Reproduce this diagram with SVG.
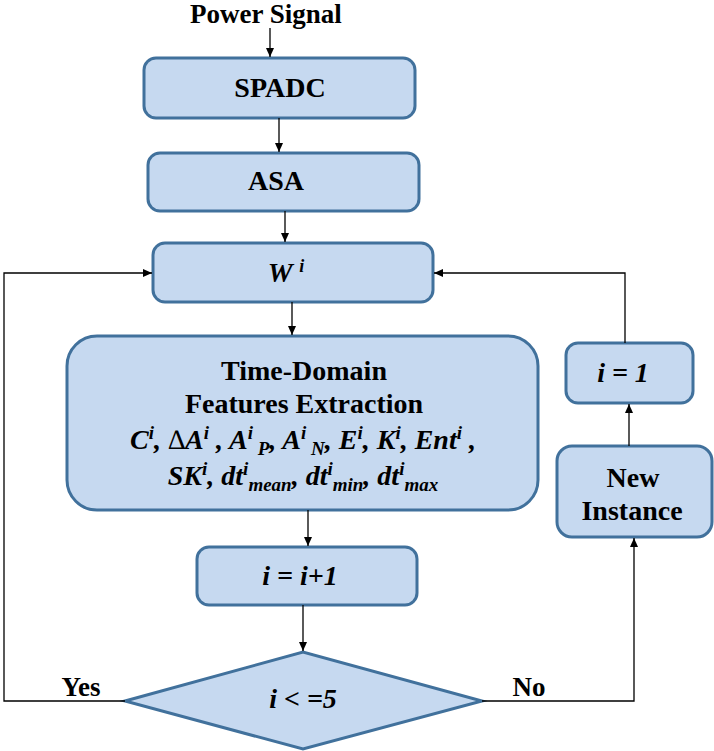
<svg xmlns="http://www.w3.org/2000/svg" width="714" height="751" viewBox="0 0 714 751">
<style>
.box{fill:#c6d9f0;stroke:#41719c;stroke-width:3}
.c{fill:none;stroke:#000;stroke-width:1.3}
</style>
<defs>
<marker id="ah" markerUnits="userSpaceOnUse" markerWidth="9" markerHeight="8" refX="9" refY="4" orient="auto">
<path d="M0,0 L9,4 L0,8 z" fill="#000"/>
</marker>
</defs>
<g font-family="Liberation Serif, DejaVu Serif, serif" font-weight="bold" font-size="28" text-anchor="middle" fill="#000">
<text x="266" y="23" font-size="27">Power Signal</text>
<g id="spadc"><rect class="box" x="144" y="58" width="271" height="60" rx="12"/><text x="280" y="97">SPADC</text></g>
<g id="asa"><rect class="box" x="148" y="153" width="271" height="58" rx="12"/><text x="276" y="190">ASA</text></g>
<g id="wi"><rect class="box" x="153" y="243" width="280" height="59" rx="12"/><text font-style="italic" x="286" y="282">W <tspan font-size="18" dy="-10">i</tspan></text></g>
<g id="td"><rect class="box" x="67" y="336" width="471" height="174" rx="30"/>
<text x="304" y="380">Time-Domain</text>
<text x="304" y="413">Features Extraction</text>
<text font-style="italic" x="303" y="449">C<tspan font-size="19" dy="-10">i</tspan><tspan dy="10">, </tspan><tspan font-style="normal" font-weight="normal">∆</tspan>A<tspan font-size="19" dy="-10">i</tspan><tspan dy="10"> , A</tspan><tspan font-size="19" dy="-10">i</tspan><tspan font-size="19" dy="16"> P</tspan><tspan dy="-6">, A</tspan><tspan font-size="19" dy="-10">i</tspan><tspan font-size="19" dy="16"> N</tspan><tspan dy="-6">, E</tspan><tspan font-size="19" dy="-10">i</tspan><tspan dy="10">, K</tspan><tspan font-size="19" dy="-10">i</tspan><tspan dy="10">, Ent</tspan><tspan font-size="19" dy="-10">i</tspan><tspan dy="10"> ,</tspan></text>
<text font-style="italic" x="303" y="485">SK<tspan font-size="19" dy="-10">i</tspan><tspan dy="10">, dt</tspan><tspan font-size="19" dy="-10">i</tspan><tspan font-size="19" dy="16">mean</tspan><tspan dy="-6">, dt</tspan><tspan font-size="19" dy="-10">i</tspan><tspan font-size="19" dy="16">min</tspan><tspan dy="-6">, dt</tspan><tspan font-size="19" dy="-10">i</tspan><tspan font-size="19" dy="16">max</tspan></text>
</g>
<g id="inc"><rect class="box" x="197" y="547" width="220" height="58" rx="12"/><text font-style="italic" x="300" y="585">i = i+1</text></g>
<g id="dec"><polygon class="box" points="125,701 303,652 482,701 303,749"/><text font-style="italic" x="303" y="708">i &lt; =5</text></g>
<g id="newinst"><rect class="box" x="557" y="446" width="155" height="91" rx="15"/><text x="633" y="487">New</text><text x="632" y="520">Instance</text></g>
<g id="ione"><rect class="box" x="566" y="343" width="127" height="60" rx="12"/><text font-style="italic" x="623" y="382">i = 1</text></g>
<text x="81" y="696" font-size="27">Yes</text>
<text x="529" y="696" font-size="27">No</text>
</g>
<g id="connectors">
<line class="c" x1="270" y1="28" x2="270" y2="57" marker-end="url(#ah)"/>
<line class="c" x1="279" y1="118" x2="279" y2="152" marker-end="url(#ah)"/>
<line class="c" x1="285" y1="211" x2="285" y2="242" marker-end="url(#ah)"/>
<line class="c" x1="292" y1="302" x2="292" y2="335" marker-end="url(#ah)"/>
<line class="c" x1="308" y1="510" x2="308" y2="546" marker-end="url(#ah)"/>
<line class="c" x1="303" y1="605" x2="303" y2="651" marker-end="url(#ah)"/>
<polyline class="c" points="125,701 4,701 4,273 152,273" marker-end="url(#ah)"/>
<polyline class="c" points="482,701 634,701 634,538" marker-end="url(#ah)"/>
<line class="c" x1="629" y1="446" x2="629" y2="404" marker-end="url(#ah)"/>
<polyline class="c" points="625,343 625,273 434,273" marker-end="url(#ah)"/>
</g>
</svg>
